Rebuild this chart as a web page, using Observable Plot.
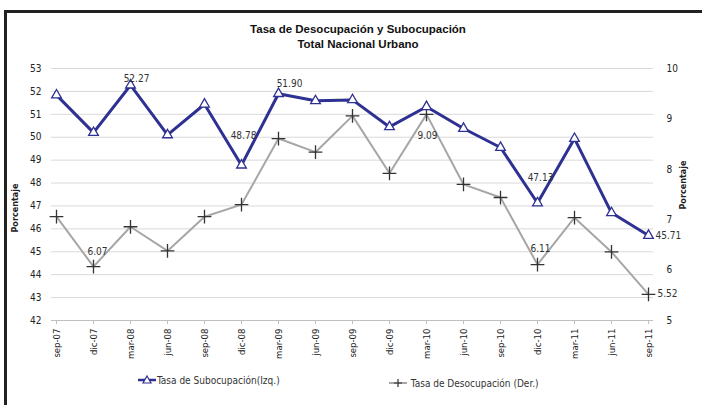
<!DOCTYPE html>
<html>
<head>
<meta charset="utf-8">
<script src="https://cdn.jsdelivr.net/npm/d3@7"></script>
<script src="https://cdn.jsdelivr.net/npm/@observablehq/plot@0.6"></script>
<style>
  body { margin: 0; background: #fff; }
  #wrap { position: relative; width: 702px; height: 405px; overflow: hidden; font-family: "Liberation Sans Narrow", "DejaVu Sans Condensed", "Liberation Sans", sans-serif; color: #333; }
  #frame { position: absolute; left: 4px; top: 10px; width: 720px; height: 420px; border-left: 3px solid #222; border-top: 3px solid #222; }
  #chart { position: absolute; left: 0; top: 0; }
  .title { position: absolute; left: 158px; width: 400px; text-align: center; font-weight: bold; font-size: 11.5px; color: #111; font-family: "Liberation Sans", "DejaVu Sans", sans-serif; }
  .ylab { position: absolute; font-size: 9px; font-weight: bold; color: #222; transform: rotate(-90deg); transform-origin: center; white-space: nowrap; }
  .leg { position: absolute; font-size: 10px; color: #333; white-space: nowrap; display: flex; align-items: center; }
</style>
</head>
<body>
<div id="wrap">
  <div id="frame"></div>
  <div id="chart"></div>
  <div class="title" style="top:23px;">Tasa de Desocupación y Subocupación</div>
  <div class="title" style="top:38px;">Total Nacional Urbano</div>
  <div class="ylab" style="left:-10px; top:203px; width:50px; text-align:center;">Porcentaje</div>
  <div class="ylab" style="left:658px; top:180px; width:50px; text-align:center;">Porcentaje</div>
  <div class="leg" style="left:137px; top:374px;">
    <svg width="20" height="12"><line x1="1" y1="6" x2="19" y2="6" stroke="#2e3192" stroke-width="2.5"/><path d="M10,2 L14,9 L6,9 Z" fill="#fff" stroke="#2e3192" stroke-width="1.2"/></svg>
    <span>Tasa de Subocupación(Izq.)</span>
  </div>
  <div class="leg" style="left:388px; top:377px;">
    <svg width="20" height="12"><line x1="1" y1="6" x2="19" y2="6" stroke="#a6a6a6" stroke-width="2"/><path d="M10,2 V10 M6,6 H14" stroke="#333" stroke-width="1.2"/></svg>
    <span>&nbsp;Tasa de Desocupación (Der.)</span>
  </div>
</div>
<script>
const months = ["sep-07","dic-07","mar-08","jun-08","sep-08","dic-08","mar-09","jun-09","sep-09","dic-09","mar-10","jun-10","sep-10","dic-10","mar-11","jun-11","sep-11"];
const subocupacion = [51.84, 50.20, 52.27, 50.10, 51.44, 48.78, 51.90, 51.59, 51.63, 50.45, 51.33, 50.38, 49.55, 47.13, 49.94, 46.70, 45.71];
const desocupacion = [7.06, 6.07, 6.86, 6.38, 7.06, 7.30, 8.61, 8.34, 9.06, 7.92, 9.09, 7.70, 7.44, 6.11, 7.04, 6.36, 5.52];
const leftTicks = [42, 43, 44, 45, 46, 47, 48, 49, 50, 51, 52, 53];
const rightTicks = [5, 6, 7, 8, 9, 10];
const subLabelMonths = ["mar-08", "dic-08", "mar-09", "dic-10", "sep-11"];
const desLabelMonths = ["dic-07", "mar-10", "dic-10", "sep-11"];

// right axis (5..10) mapped onto left axis (42..53)
const toLeft = v => 42 + (v - 5) * (11 / 5);
const fromLeft = d => Math.round((d - 42) / (11 / 5) + 5);

const sub = months.map((m, i) => ({m, v: subocupacion[i]}));
const des = months.map((m, i) => ({m, v: desocupacion[i], y: toLeft(desocupacion[i])}));

const subOff = {"mar-08": [6, -6], "dic-08": [2, -29], "mar-09": [11, -10], "dic-10": [3, -25], "sep-11": [7, 0]};
const desOff = {"dic-07": [4, -15], "mar-10": [1, 21], "dic-10": [3, -16], "sep-11": [9, 0]};

const labelMarks = [];
for (const m of subLabelMonths) {
  const [dx, dy] = subOff[m];
  labelMarks.push(Plot.text(sub.filter(d => d.m === m), {x: "m", y: "v", text: d => d.v.toFixed(2), dx, dy,
    textAnchor: m === "sep-11" ? "start" : "middle", fill: "#333", fontSize: 10}));
}
for (const m of desLabelMonths) {
  const [dx, dy] = desOff[m];
  labelMarks.push(Plot.text(des.filter(d => d.m === m), {x: "m", y: "y", text: d => d.v.toFixed(2), dx, dy,
    textAnchor: m === "sep-11" ? "start" : "middle", fill: "#333", fontSize: 10}));
}

const chart = Plot.plot({
  width: 702,
  height: 405,
  marginLeft: 51,
  marginRight: 49,
  marginTop: 68,
  marginBottom: 85,
  style: {fontFamily: '"Liberation Sans Narrow", "DejaVu Sans Condensed", "Liberation Sans", sans-serif', fontSize: "10px", color: "#222", background: "transparent"},
  x: {type: "point", domain: months, padding: 0},
  y: {domain: [42, 53]},
  marks: [
    Plot.gridY(leftTicks, {stroke: "#d9d9d9", strokeOpacity: 1}),
    Plot.ruleY([42], {stroke: "#bfbfbf"}),
    Plot.axisY(leftTicks, {anchor: "left", tickSize: 0, tickPadding: 10, label: null, fontSize: 10}),
    Plot.axisY(rightTicks.map(toLeft), {anchor: "right", tickSize: 0, tickPadding: 13, label: null, fontSize: 10, tickFormat: d => String(fromLeft(d))}),
    Plot.axisX({tickRotate: -90, tickSize: 4, tickPadding: 4, label: null, fontSize: 9.5, stroke: "#bfbfbf"}),
    Plot.line(des, {x: "m", y: "y", stroke: "#a6a6a6", strokeWidth: 2}),
    Plot.dot(des, {x: "m", y: "y", symbol: "plus", r: 4.5, stroke: "#333", strokeWidth: 1.3}),
    Plot.line(sub, {x: "m", y: "v", stroke: "#2e3192", strokeWidth: 3}),
    Plot.dot(sub, {x: "m", y: "v", symbol: "triangle", r: 3.6, fill: "#fff", stroke: "#2e3192", strokeWidth: 1.3}),
    ...labelMarks
  ]
});
document.getElementById("chart").appendChild(chart);
</script>
</body>
</html>
